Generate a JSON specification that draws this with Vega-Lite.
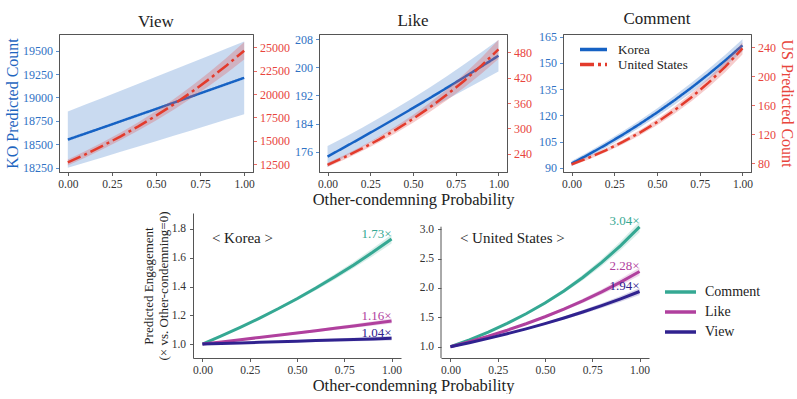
{
"$schema":"https://vega.github.io/schema/vega-lite/v6.json",
"padding":{"left":3,"top":9,"right":0,"bottom":0},
"config":{"font":"Liberation Serif","view":{"stroke":null},
 "axis":{"grid":false,"labelOverlap":false,"domainColor":"#555","domainWidth":1,"tickColor":"#333","tickSize":3.5,"tickWidth":0.8,"labelFont":"Liberation Serif","labelFontSize":11.5,"labelColor":"#333","labelPadding":3,"titleFont":"Liberation Serif","titleFontWeight":"normal","titleColor":"#222","titleFontSize":16.5},
 "title":{"font":"Liberation Serif","fontSize":17,"fontWeight":"normal","color":"#222","offset":3},
 "legend":{"labelFont":"Liberation Serif","labelColor":"#222"},
 "text":{"font":"Liberation Serif"}},
"datasets":{
"top":[
{"m":"View","c":"Korea","x":0,"y":18550,"lo":18250,"hi":18850},
{"m":"View","c":"Korea","x":0.1,"y":18615,"lo":18306,"hi":18924},
{"m":"View","c":"Korea","x":0.2,"y":18680,"lo":18362,"hi":18998},
{"m":"View","c":"Korea","x":0.3,"y":18746,"lo":18420,"hi":19072},
{"m":"View","c":"Korea","x":0.4,"y":18812,"lo":18477,"hi":19147},
{"m":"View","c":"Korea","x":0.5,"y":18877,"lo":18533,"hi":19221},
{"m":"View","c":"Korea","x":0.6,"y":18944,"lo":18591,"hi":19297},
{"m":"View","c":"Korea","x":0.7,"y":19010,"lo":18648,"hi":19372},
{"m":"View","c":"Korea","x":0.8,"y":19077,"lo":18707,"hi":19447},
{"m":"View","c":"Korea","x":0.9,"y":19144,"lo":18765,"hi":19523},
{"m":"View","c":"Korea","x":1,"y":19210,"lo":18822,"hi":19598},
{"m":"View","c":"United States","x":0,"y":12700,"lo":12382,"hi":13018},
{"m":"View","c":"United States","x":0.1,"y":13570,"lo":13229,"hi":13911},
{"m":"View","c":"United States","x":0.2,"y":14500,"lo":14130,"hi":14870},
{"m":"View","c":"United States","x":0.3,"y":15493,"lo":15088,"hi":15898},
{"m":"View","c":"United States","x":0.4,"y":16554,"lo":16106,"hi":17002},
{"m":"View","c":"United States","x":0.5,"y":17689,"lo":17189,"hi":18189},
{"m":"View","c":"United States","x":0.6,"y":18900,"lo":18339,"hi":19461},
{"m":"View","c":"United States","x":0.7,"y":20195,"lo":19561,"hi":20829},
{"m":"View","c":"United States","x":0.8,"y":21579,"lo":20860,"hi":22298},
{"m":"View","c":"United States","x":0.9,"y":23057,"lo":22238,"hi":23876},
{"m":"View","c":"United States","x":1,"y":24638,"lo":23702,"hi":25574},
{"m":"Like","c":"Korea","x":0,"y":174.6,"lo":171.6,"hi":177.6},
{"m":"Like","c":"Korea","x":0.1,"y":177.28,"lo":174.45,"hi":180.12},
{"m":"Like","c":"Korea","x":0.2,"y":180.0,"lo":177.26,"hi":182.74},
{"m":"Like","c":"Korea","x":0.3,"y":182.76,"lo":180.05,"hi":185.48},
{"m":"Like","c":"Korea","x":0.4,"y":185.56,"lo":182.8,"hi":188.32},
{"m":"Like","c":"Korea","x":0.5,"y":188.41,"lo":185.54,"hi":191.29},
{"m":"Like","c":"Korea","x":0.6,"y":191.3,"lo":188.24,"hi":194.36},
{"m":"Like","c":"Korea","x":0.7,"y":194.23,"lo":190.92,"hi":197.55},
{"m":"Like","c":"Korea","x":0.8,"y":197.21,"lo":193.57,"hi":200.85},
{"m":"Like","c":"Korea","x":0.9,"y":200.24,"lo":196.21,"hi":204.28},
{"m":"Like","c":"Korea","x":1,"y":203.31,"lo":198.81,"hi":207.81},
{"m":"Like","c":"United States","x":0,"y":213.5,"lo":208.59,"hi":218.41},
{"m":"Like","c":"United States","x":0.1,"y":231.84,"lo":226.45,"hi":237.23},
{"m":"Like","c":"United States","x":0.2,"y":251.76,"lo":245.73,"hi":257.79},
{"m":"Like","c":"United States","x":0.3,"y":273.39,"lo":266.51,"hi":280.27},
{"m":"Like","c":"United States","x":0.4,"y":296.87,"lo":288.9,"hi":304.84},
{"m":"Like","c":"United States","x":0.5,"y":322.38,"lo":313.03,"hi":331.73},
{"m":"Like","c":"United States","x":0.6,"y":350.08,"lo":339.0,"hi":361.16},
{"m":"Like","c":"United States","x":0.7,"y":380.16,"lo":366.95,"hi":393.37},
{"m":"Like","c":"United States","x":0.8,"y":412.82,"lo":396.98,"hi":428.66},
{"m":"Like","c":"United States","x":0.9,"y":448.29,"lo":429.26,"hi":467.32},
{"m":"Like","c":"United States","x":1,"y":486.78,"lo":463.9,"hi":509.66},
{"m":"Comment","c":"Korea","x":0,"y":92.5,"lo":91.02,"hi":93.98},
{"m":"Comment","c":"Korea","x":0.1,"y":97.71,"lo":96.09,"hi":99.33},
{"m":"Comment","c":"Korea","x":0.2,"y":103.22,"lo":101.44,"hi":105.0},
{"m":"Comment","c":"Korea","x":0.3,"y":109.03,"lo":107.09,"hi":110.97},
{"m":"Comment","c":"Korea","x":0.4,"y":115.17,"lo":113.05,"hi":117.29},
{"m":"Comment","c":"Korea","x":0.5,"y":121.66,"lo":119.35,"hi":123.97},
{"m":"Comment","c":"Korea","x":0.6,"y":128.51,"lo":125.99,"hi":131.03},
{"m":"Comment","c":"Korea","x":0.7,"y":135.75,"lo":133.01,"hi":138.49},
{"m":"Comment","c":"Korea","x":0.8,"y":143.4,"lo":140.42,"hi":146.38},
{"m":"Comment","c":"Korea","x":0.9,"y":151.47,"lo":148.23,"hi":154.71},
{"m":"Comment","c":"Korea","x":1,"y":160.03,"lo":156.51,"hi":163.55},
{"m":"Comment","c":"United States","x":0,"y":78.4,"lo":76.44,"hi":80.36},
{"m":"Comment","c":"United States","x":0.1,"y":87.62,"lo":85.34,"hi":89.9},
{"m":"Comment","c":"United States","x":0.2,"y":97.93,"lo":95.29,"hi":100.57},
{"m":"Comment","c":"United States","x":0.3,"y":109.44,"lo":106.38,"hi":112.5},
{"m":"Comment","c":"United States","x":0.4,"y":122.31,"lo":118.76,"hi":125.86},
{"m":"Comment","c":"United States","x":0.5,"y":136.7,"lo":132.6,"hi":140.8},
{"m":"Comment","c":"United States","x":0.6,"y":152.78,"lo":148.04,"hi":157.52},
{"m":"Comment","c":"United States","x":0.7,"y":170.74,"lo":165.28,"hi":176.2},
{"m":"Comment","c":"United States","x":0.8,"y":190.82,"lo":184.52,"hi":197.12},
{"m":"Comment","c":"United States","x":0.9,"y":213.27,"lo":206.02,"hi":220.52},
{"m":"Comment","c":"United States","x":1,"y":238.34,"lo":230.0,"hi":246.68}
],
"bot":[
{"c":"Korea","m":"Comment","x":0,"y":1,"lo":1,"hi":1},
{"c":"Korea","m":"Comment","x":0.1,"y":1.0563,"lo":1.0544,"hi":1.0582},
{"c":"Korea","m":"Comment","x":0.2,"y":1.1158,"lo":1.1118,"hi":1.1198},
{"c":"Korea","m":"Comment","x":0.3,"y":1.1787,"lo":1.1723,"hi":1.1851},
{"c":"Korea","m":"Comment","x":0.4,"y":1.2451,"lo":1.2361,"hi":1.2541},
{"c":"Korea","m":"Comment","x":0.5,"y":1.3152,"lo":1.3034,"hi":1.327},
{"c":"Korea","m":"Comment","x":0.6,"y":1.3893,"lo":1.3743,"hi":1.4043},
{"c":"Korea","m":"Comment","x":0.7,"y":1.4676,"lo":1.4491,"hi":1.4861},
{"c":"Korea","m":"Comment","x":0.8,"y":1.5502,"lo":1.5279,"hi":1.5725},
{"c":"Korea","m":"Comment","x":0.9,"y":1.6376,"lo":1.6111,"hi":1.6641},
{"c":"Korea","m":"Comment","x":1,"y":1.73,"lo":1.6989,"hi":1.7611},
{"c":"Korea","m":"Like","x":0,"y":1,"lo":1,"hi":1},
{"c":"Korea","m":"Like","x":0.1,"y":1.015,"lo":1.0135,"hi":1.0165},
{"c":"Korea","m":"Like","x":0.2,"y":1.0302,"lo":1.0271,"hi":1.0333},
{"c":"Korea","m":"Like","x":0.3,"y":1.0455,"lo":1.0408,"hi":1.0502},
{"c":"Korea","m":"Like","x":0.4,"y":1.0611,"lo":1.0547,"hi":1.0675},
{"c":"Korea","m":"Like","x":0.5,"y":1.077,"lo":1.0689,"hi":1.0851},
{"c":"Korea","m":"Like","x":0.6,"y":1.093,"lo":1.0832,"hi":1.1028},
{"c":"Korea","m":"Like","x":0.7,"y":1.1094,"lo":1.0978,"hi":1.121},
{"c":"Korea","m":"Like","x":0.8,"y":1.126,"lo":1.1125,"hi":1.1395},
{"c":"Korea","m":"Like","x":0.9,"y":1.1428,"lo":1.1274,"hi":1.1582},
{"c":"Korea","m":"Like","x":1,"y":1.16,"lo":1.1426,"hi":1.1774},
{"c":"Korea","m":"View","x":0,"y":1,"lo":1,"hi":1},
{"c":"Korea","m":"View","x":0.1,"y":1.0039,"lo":1.0024,"hi":1.0054},
{"c":"Korea","m":"View","x":0.2,"y":1.0079,"lo":1.0049,"hi":1.0109},
{"c":"Korea","m":"View","x":0.3,"y":1.0118,"lo":1.0072,"hi":1.0164},
{"c":"Korea","m":"View","x":0.4,"y":1.0158,"lo":1.0097,"hi":1.0219},
{"c":"Korea","m":"View","x":0.5,"y":1.0198,"lo":1.0122,"hi":1.0274},
{"c":"Korea","m":"View","x":0.6,"y":1.0238,"lo":1.0146,"hi":1.033},
{"c":"Korea","m":"View","x":0.7,"y":1.0278,"lo":1.017,"hi":1.0386},
{"c":"Korea","m":"View","x":0.8,"y":1.0319,"lo":1.0195,"hi":1.0443},
{"c":"Korea","m":"View","x":0.9,"y":1.0359,"lo":1.0219,"hi":1.0499},
{"c":"Korea","m":"View","x":1,"y":1.04,"lo":1.0244,"hi":1.0556},
{"c":"United States","m":"Comment","x":0,"y":1,"lo":1,"hi":1},
{"c":"United States","m":"Comment","x":0.1,"y":1.1176,"lo":1.1142,"hi":1.121},
{"c":"United States","m":"Comment","x":0.2,"y":1.249,"lo":1.2415,"hi":1.2565},
{"c":"United States","m":"Comment","x":0.3,"y":1.396,"lo":1.3834,"hi":1.4086},
{"c":"United States","m":"Comment","x":0.4,"y":1.5601,"lo":1.5414,"hi":1.5788},
{"c":"United States","m":"Comment","x":0.5,"y":1.7436,"lo":1.7174,"hi":1.7698},
{"c":"United States","m":"Comment","x":0.6,"y":1.9487,"lo":1.9136,"hi":1.9838},
{"c":"United States","m":"Comment","x":0.7,"y":2.1778,"lo":2.1321,"hi":2.2235},
{"c":"United States","m":"Comment","x":0.8,"y":2.434,"lo":2.3756,"hi":2.4924},
{"c":"United States","m":"Comment","x":0.9,"y":2.7202,"lo":2.6468,"hi":2.7936},
{"c":"United States","m":"Comment","x":1,"y":3.04,"lo":2.9488,"hi":3.1312},
{"c":"United States","m":"Like","x":0,"y":1,"lo":1,"hi":1},
{"c":"United States","m":"Like","x":0.1,"y":1.0859,"lo":1.0826,"hi":1.0892},
{"c":"United States","m":"Like","x":0.2,"y":1.1792,"lo":1.1721,"hi":1.1863},
{"c":"United States","m":"Like","x":0.3,"y":1.2805,"lo":1.269,"hi":1.292},
{"c":"United States","m":"Like","x":0.4,"y":1.3905,"lo":1.3738,"hi":1.4072},
{"c":"United States","m":"Like","x":0.5,"y":1.51,"lo":1.4873,"hi":1.5327},
{"c":"United States","m":"Like","x":0.6,"y":1.6397,"lo":1.6102,"hi":1.6692},
{"c":"United States","m":"Like","x":0.7,"y":1.7806,"lo":1.7432,"hi":1.818},
{"c":"United States","m":"Like","x":0.8,"y":1.9336,"lo":1.8872,"hi":1.98},
{"c":"United States","m":"Like","x":0.9,"y":2.0997,"lo":2.043,"hi":2.1564},
{"c":"United States","m":"Like","x":1,"y":2.28,"lo":2.2116,"hi":2.3484},
{"c":"United States","m":"View","x":0,"y":1,"lo":1,"hi":1},
{"c":"United States","m":"View","x":0.1,"y":1.0685,"lo":1.0653,"hi":1.0717},
{"c":"United States","m":"View","x":0.2,"y":1.1417,"lo":1.1348,"hi":1.1486},
{"c":"United States","m":"View","x":0.3,"y":1.2199,"lo":1.2089,"hi":1.2309},
{"c":"United States","m":"View","x":0.4,"y":1.3035,"lo":1.2879,"hi":1.3191},
{"c":"United States","m":"View","x":0.5,"y":1.3928,"lo":1.3719,"hi":1.4137},
{"c":"United States","m":"View","x":0.6,"y":1.4882,"lo":1.4614,"hi":1.515},
{"c":"United States","m":"View","x":0.7,"y":1.5902,"lo":1.5568,"hi":1.6236},
{"c":"United States","m":"View","x":0.8,"y":1.6991,"lo":1.6583,"hi":1.7399},
{"c":"United States","m":"View","x":0.9,"y":1.8155,"lo":1.7665,"hi":1.8645},
{"c":"United States","m":"View","x":1,"y":1.94,"lo":1.8818,"hi":1.9982}
],
"lab":[
{"c":"Korea","m":"Comment","x":1,"y":1.73,"t":"1.73×"},
{"c":"Korea","m":"Like","x":1,"y":1.16,"t":"1.16×"},
{"c":"Korea","m":"View","x":1,"y":1.04,"t":"1.04×"},
{"c":"United States","m":"Comment","x":1,"y":3.04,"t":"3.04×"},
{"c":"United States","m":"Like","x":1,"y":2.28,"t":"2.28×"},
{"c":"United States","m":"View","x":1,"y":1.94,"t":"1.94×"}
]
},
"vconcat":[
{"hconcat":[
 {"width":194,"height":138,"view":{"stroke":"#555"},"title":"View",
  "layer":[
   {"layer":[
    {"data":{"name":"top"},"transform":[{"filter":"datum.m==='View'&&datum.c==='Korea'"}],
     "mark":{"type":"area","color":"#5b8fd0","opacity":0.33},
     "encoding":{"x":{"field":"x","type":"quantitative","scale":{"domain":[-0.05,1.05],"nice":false,"zero":false},"axis":{"values":[0,0.25,0.5,0.75,1],"format":".2f","title":null}},
      "y":{"field":"lo","type":"quantitative","scale":{"domain":[18204,19678],"nice":false,"zero":false},"axis":{"orient":"left","values":[18250,18500,18750,19000,19250,19500],"format":"d","title":"KO Predicted Count","titleColor":"#1f66c0","labelColor":"#2f72c4","tickColor":"#2f72c4","labelFontSize":12,"titleFontSize":16,"titlePadding":2}},
      "y2":{"field":"hi"}}},
    {"data":{"name":"top"},"transform":[{"filter":"datum.m==='View'&&datum.c==='Korea'"}],
     "mark":{"type":"line","strokeWidth":2.5},
     "encoding":{"x":{"field":"x","type":"quantitative","scale":{"domain":[-0.05,1.05],"nice":false,"zero":false},"axis":{"values":[0,0.25,0.5,0.75,1],"format":".2f","title":null}},
      "y":{"field":"y","type":"quantitative","scale":{"domain":[18204,19678],"nice":false,"zero":false},"axis":{"orient":"left","values":[18250,18500,18750,19000,19250,19500],"format":"d","title":"KO Predicted Count","titleColor":"#1f66c0","labelColor":"#2f72c4","tickColor":"#2f72c4","labelFontSize":12,"titleFontSize":16,"titlePadding":2}},
      "color":{"field":"c","type":"nominal","scale":{"domain":["Korea","United States"],"range":["#1662c4","#e33b2c"]},"legend":null},
      "strokeDash":{"field":"c","type":"nominal","scale":{"domain":["Korea","United States"],"range":[[1,0],[14,4,3,4]]},"legend":null}}}
   ]},
   {"layer":[
    {"data":{"name":"top"},"transform":[{"filter":"datum.m==='View'&&datum.c==='United States'"}],
     "mark":{"type":"area","color":"#e05555","opacity":0.3},
     "encoding":{"x":{"field":"x","type":"quantitative"},
      "y":{"field":"lo","type":"quantitative","scale":{"domain":[11677,26421],"nice":false,"zero":false},"axis":{"orient":"right","values":[12500,15000,17500,20000,22500,25000],"format":"d","title":null,"labelColor":"#e8453c","tickColor":"#e8453c","labelFontSize":12}},
      "y2":{"field":"hi"}}},
    {"data":{"name":"top"},"transform":[{"filter":"datum.m==='View'&&datum.c==='United States'"}],
     "mark":{"type":"line","strokeWidth":2.5},
     "encoding":{"x":{"field":"x","type":"quantitative"},
      "y":{"field":"y","type":"quantitative","scale":{"domain":[11677,26421],"nice":false,"zero":false},"axis":{"orient":"right","values":[12500,15000,17500,20000,22500,25000],"format":"d","title":null,"labelColor":"#e8453c","tickColor":"#e8453c","labelFontSize":12}},
      "color":{"field":"c","type":"nominal","scale":{"domain":["Korea","United States"],"range":["#1662c4","#e33b2c"]},"legend":null},
      "strokeDash":{"field":"c","type":"nominal","scale":{"domain":["Korea","United States"],"range":[[1,0],[14,4,3,4]]},"legend":null}}}
   ]}
  ],
  "resolve":{"scale":{"y":"independent"}}},
 {"width":16,"height":10,"data":{"values":[{"a":0}]},"mark":{"type":"point","opacity":0},"encoding":{}},
 {"width":188,"height":138,"view":{"stroke":"#555"},"title":"Like",
  "layer":[
   {"layer":[
    {"data":{"name":"top"},"transform":[{"filter":"datum.m==='Like'&&datum.c==='Korea'"}],
     "mark":{"type":"area","color":"#5b8fd0","opacity":0.33},
     "encoding":{"x":{"field":"x","type":"quantitative","scale":{"domain":[-0.05,1.05],"nice":false,"zero":false},"axis":{"values":[0,0.25,0.5,0.75,1],"format":".2f","title":"Other-condemning Probability","titlePadding":1}},
      "y":{"field":"lo","type":"quantitative","scale":{"domain":[170.2,209.5],"nice":false,"zero":false},"axis":{"orient":"left","values":[176,184,192,200,208],"format":"d","title":null,"labelColor":"#2f72c4","tickColor":"#2f72c4","labelFontSize":12}},
      "y2":{"field":"hi"}}},
    {"data":{"name":"top"},"transform":[{"filter":"datum.m==='Like'&&datum.c==='Korea'"}],
     "mark":{"type":"line","strokeWidth":2.5},
     "encoding":{"x":{"field":"x","type":"quantitative","scale":{"domain":[-0.05,1.05],"nice":false,"zero":false},"axis":{"values":[0,0.25,0.5,0.75,1],"format":".2f","title":"Other-condemning Probability","titlePadding":1}},
      "y":{"field":"y","type":"quantitative","scale":{"domain":[170.2,209.5],"nice":false,"zero":false},"axis":{"orient":"left","values":[176,184,192,200,208],"format":"d","title":null,"labelColor":"#2f72c4","tickColor":"#2f72c4","labelFontSize":12}},
      "color":{"field":"c","type":"nominal","scale":{"domain":["Korea","United States"],"range":["#1662c4","#e33b2c"]},"legend":null},
      "strokeDash":{"field":"c","type":"nominal","scale":{"domain":["Korea","United States"],"range":[[1,0],[14,4,3,4]]},"legend":null}}}
   ]},
   {"layer":[
    {"data":{"name":"top"},"transform":[{"filter":"datum.m==='Like'&&datum.c==='United States'"}],
     "mark":{"type":"area","color":"#e05555","opacity":0.3},
     "encoding":{"x":{"field":"x","type":"quantitative"},
      "y":{"field":"lo","type":"quantitative","scale":{"domain":[196.7,523.3],"nice":false,"zero":false},"axis":{"orient":"right","values":[240,300,360,420,480],"format":"d","title":null,"labelColor":"#e8453c","tickColor":"#e8453c","labelFontSize":12}},
      "y2":{"field":"hi"}}},
    {"data":{"name":"top"},"transform":[{"filter":"datum.m==='Like'&&datum.c==='United States'"}],
     "mark":{"type":"line","strokeWidth":2.5},
     "encoding":{"x":{"field":"x","type":"quantitative"},
      "y":{"field":"y","type":"quantitative","scale":{"domain":[196.7,523.3],"nice":false,"zero":false},"axis":{"orient":"right","values":[240,300,360,420,480],"format":"d","title":null,"labelColor":"#e8453c","tickColor":"#e8453c","labelFontSize":12}},
      "color":{"field":"c","type":"nominal","scale":{"domain":["Korea","United States"],"range":["#1662c4","#e33b2c"]},"legend":null},
      "strokeDash":{"field":"c","type":"nominal","scale":{"domain":["Korea","United States"],"range":[[1,0],[14,4,3,4]]},"legend":null}}}
   ]}
  ],
  "resolve":{"scale":{"y":"independent"}}},
 {"width":6,"height":10,"data":{"values":[{"a":0}]},"mark":{"type":"point","opacity":0},"encoding":{}},
 {"width":188,"height":138,"view":{"stroke":"#555"},"title":"Comment",
  "layer":[
   {"layer":[
    {"data":{"name":"top"},"transform":[{"filter":"datum.m==='Comment'&&datum.c==='Korea'"}],
     "mark":{"type":"area","color":"#5b8fd0","opacity":0.33},
     "encoding":{"x":{"field":"x","type":"quantitative","scale":{"domain":[-0.05,1.05],"nice":false,"zero":false},"axis":{"values":[0,0.25,0.5,0.75,1],"format":".2f","title":null}},
      "y":{"field":"lo","type":"quantitative","scale":{"domain":[87.7,166.5],"nice":false,"zero":false},"axis":{"orient":"left","values":[90,105,120,135,150,165],"format":"d","title":null,"labelColor":"#2f72c4","tickColor":"#2f72c4","labelFontSize":12}},
      "y2":{"field":"hi"}}},
    {"data":{"name":"top"},"transform":[{"filter":"datum.m==='Comment'&&datum.c==='Korea'"}],
     "mark":{"type":"line","strokeWidth":2.5},
     "encoding":{"x":{"field":"x","type":"quantitative","scale":{"domain":[-0.05,1.05],"nice":false,"zero":false},"axis":{"values":[0,0.25,0.5,0.75,1],"format":".2f","title":null}},
      "y":{"field":"y","type":"quantitative","scale":{"domain":[87.7,166.5],"nice":false,"zero":false},"axis":{"orient":"left","values":[90,105,120,135,150,165],"format":"d","title":null,"labelColor":"#2f72c4","tickColor":"#2f72c4","labelFontSize":12}},
      "color":{"field":"c","type":"nominal","scale":{"domain":["Korea","United States"],"range":["#1662c4","#e33b2c"]},"legend":{"title":null,"orient":"none","legendX":15,"legendY":8,"padding":0,"symbolType":"stroke","symbolSize":729,"symbolStrokeWidth":3.5,"labelFontSize":13,"clipHeight":15,"rowPadding":0,"labelOffset":9}},
      "strokeDash":{"field":"c","type":"nominal","scale":{"domain":["Korea","United States"],"range":[[1,0],[14,4,3,4]]},"legend":{"title":null,"orient":"none","legendX":15,"legendY":8,"padding":0,"symbolType":"stroke","symbolSize":729,"symbolStrokeWidth":3.5,"labelFontSize":13,"clipHeight":15,"rowPadding":0,"labelOffset":9}}}}
   ]},
   {"layer":[
    {"data":{"name":"top"},"transform":[{"filter":"datum.m==='Comment'&&datum.c==='United States'"}],
     "mark":{"type":"area","color":"#e05555","opacity":0.3},
     "encoding":{"x":{"field":"x","type":"quantitative"},
      "y":{"field":"lo","type":"quantitative","scale":{"domain":[68,258.3],"nice":false,"zero":false},"axis":{"orient":"right","values":[80,120,160,200,240],"format":"d","title":"US Predicted Count","titleColor":"#e8453c","titleFontSize":16,"titlePadding":3,"labelColor":"#e8453c","tickColor":"#e8453c","labelFontSize":12}},
      "y2":{"field":"hi"}}},
    {"data":{"name":"top"},"transform":[{"filter":"datum.m==='Comment'&&datum.c==='United States'"}],
     "mark":{"type":"line","strokeWidth":2.5},
     "encoding":{"x":{"field":"x","type":"quantitative"},
      "y":{"field":"y","type":"quantitative","scale":{"domain":[68,258.3],"nice":false,"zero":false},"axis":{"orient":"right","values":[80,120,160,200,240],"format":"d","title":"US Predicted Count","titleColor":"#e8453c","titleFontSize":16,"titlePadding":3,"labelColor":"#e8453c","tickColor":"#e8453c","labelFontSize":12}},
      "color":{"field":"c","type":"nominal","scale":{"domain":["Korea","United States"],"range":["#1662c4","#e33b2c"]},"legend":{"title":null,"orient":"none","legendX":15,"legendY":8,"padding":0,"symbolType":"stroke","symbolSize":729,"symbolStrokeWidth":3.5,"labelFontSize":13,"clipHeight":15,"rowPadding":0,"labelOffset":9}},
      "strokeDash":{"field":"c","type":"nominal","scale":{"domain":["Korea","United States"],"range":[[1,0],[14,4,3,4]]},"legend":{"title":null,"orient":"none","legendX":15,"legendY":8,"padding":0,"symbolType":"stroke","symbolSize":729,"symbolStrokeWidth":3.5,"labelFontSize":13,"clipHeight":15,"rowPadding":0,"labelOffset":9}}}}
   ]}
  ],
  "resolve":{"scale":{"y":"independent"}}}
 ],
 "spacing":25,
 "bounds":"flush",
 "resolve":{"legend":{"color":"independent","strokeDash":"independent"}}},
{"hconcat":[
 {"width":94,"height":10,"data":{"values":[{"a":0}]},"mark":{"type":"point","opacity":0},"encoding":{}},
 {"width":208,"height":145,
  "layer":[
   {"data":{"name":"bot"},"transform":[{"filter":"datum.c==='Korea'"}],
    "mark":{"type":"area","opacity":0.2},
    "encoding":{"x":{"field":"x","type":"quantitative","scale":{"domain":[-0.05,1.05],"nice":false,"zero":false},"axis":{"values":[0,0.25,0.5,0.75,1],"format":".2f","title":"Other-condemning Probability","titleX":220,"titlePadding":1}},
     "y":{"field":"lo","type":"quantitative","scale":{"domain":[0.903,1.911],"nice":false,"zero":false},"axis":{"values":[1,1.2,1.4,1.6,1.8],"tickCount":5,"format":".1f","labelOverlap":false,"labelPadding":4,"title":["Predicted Engagement","(× vs. Other-condemning=0)"],"titleFontSize":13,"titleLineHeight":15,"titlePadding":1}},
     "y2":{"field":"hi"},
     "fill":{"field":"m","type":"nominal","scale":{"domain":["Comment","Like","View"],"range":["#35a893","#b0409e","#30228f"]},"legend":null}}},
   {"data":{"name":"bot"},"transform":[{"filter":"datum.c==='Korea'"}],
    "mark":{"type":"line","strokeWidth":3},
    "encoding":{"x":{"field":"x","type":"quantitative","scale":{"domain":[-0.05,1.05],"nice":false,"zero":false},"axis":{"values":[0,0.25,0.5,0.75,1],"format":".2f","title":"Other-condemning Probability","titleX":220,"titlePadding":1}},
     "y":{"field":"y","type":"quantitative","scale":{"domain":[0.903,1.911],"nice":false,"zero":false},"axis":{"values":[1,1.2,1.4,1.6,1.8],"tickCount":5,"format":".1f","labelOverlap":false,"labelPadding":4,"title":["Predicted Engagement","(× vs. Other-condemning=0)"],"titleFontSize":13,"titleLineHeight":15,"titlePadding":1}},
     "color":{"field":"m","type":"nominal","scale":{"domain":["Comment","Like","View"],"range":["#35a893","#b0409e","#30228f"]},"legend":null}}},
   {"data":{"name":"lab"},"transform":[{"filter":"datum.c==='Korea'"}],
    "mark":{"type":"text","align":"right","baseline":"middle","dy":-5.5,"fontSize":13},
    "encoding":{"x":{"field":"x","type":"quantitative"},"y":{"field":"y","type":"quantitative","axis":{"values":[1,1.2,1.4,1.6,1.8],"tickCount":5,"format":".1f","labelOverlap":false,"labelPadding":4,"title":["Predicted Engagement","(× vs. Other-condemning=0)"],"titleFontSize":13,"titleLineHeight":15,"titlePadding":1}},"text":{"field":"t"},
     "fill":{"field":"m","type":"nominal","scale":{"domain":["Comment","Like","View"],"range":["#35a893","#b0409e","#30228f"]},"legend":null}}},
   {"data":{"values":[{"a":0}]},"mark":{"type":"text","text":"< Korea >","align":"left","baseline":"middle","fontSize":15,"color":"#222"},
    "encoding":{"x":{"datum":0.05},"y":{"datum":1.74,"axis":{"values":[1,1.2,1.4,1.6,1.8],"tickCount":5,"format":".1f","labelOverlap":false,"labelPadding":4,"title":["Predicted Engagement","(× vs. Other-condemning=0)"],"titleFontSize":13,"titleLineHeight":15,"titlePadding":1}}}}
  ]},
 {"width":208,"height":145,
  "layer":[
   {"data":{"name":"bot"},"transform":[{"filter":"datum.c==='United States'"}],
    "mark":{"type":"area","opacity":0.2},
    "encoding":{"x":{"field":"x","type":"quantitative","scale":{"domain":[-0.05,1.05],"nice":false,"zero":false},"axis":{"values":[0,0.25,0.5,0.75,1],"format":".2f","title":null}},
     "y":{"field":"lo","type":"quantitative","scale":{"domain":[0.8077,3.276],"nice":false,"zero":false},"axis":{"values":[1,1.5,2,2.5,3],"tickCount":5,"format":".1f","labelOverlap":false,"labelPadding":4,"title":null,"domain":false}},
     "y2":{"field":"hi"},
     "fill":{"field":"m","type":"nominal","scale":{"domain":["Comment","Like","View"],"range":["#35a893","#b0409e","#30228f"]},"legend":null}}},
   {"data":{"name":"bot"},"transform":[{"filter":"datum.c==='United States'"}],
    "mark":{"type":"line","strokeWidth":3},
    "encoding":{"x":{"field":"x","type":"quantitative","scale":{"domain":[-0.05,1.05],"nice":false,"zero":false},"axis":{"values":[0,0.25,0.5,0.75,1],"format":".2f","title":null}},
     "y":{"field":"y","type":"quantitative","scale":{"domain":[0.8077,3.276],"nice":false,"zero":false},"axis":{"values":[1,1.5,2,2.5,3],"tickCount":5,"format":".1f","labelOverlap":false,"labelPadding":4,"title":null,"domain":false}},
     "color":{"field":"m","type":"nominal","scale":{"domain":["Comment","Like","View"],"range":["#35a893","#b0409e","#30228f"]},"legend":{"title":null,"orient":"none","legendX":222,"legendY":70,"padding":0,"symbolType":"stroke","symbolSize":961,"symbolStrokeWidth":3.5,"labelFontSize":14,"clipHeight":18,"rowPadding":2,"labelOffset":7}}}},
   {"data":{"name":"lab"},"transform":[{"filter":"datum.c==='United States'"}],
    "mark":{"type":"text","align":"right","baseline":"middle","dy":-5.5,"fontSize":13},
    "encoding":{"x":{"field":"x","type":"quantitative"},"y":{"field":"y","type":"quantitative","axis":{"values":[1,1.5,2,2.5,3],"tickCount":5,"format":".1f","labelOverlap":false,"labelPadding":4,"title":null,"domain":false}},"text":{"field":"t"},
     "fill":{"field":"m","type":"nominal","scale":{"domain":["Comment","Like","View"],"range":["#35a893","#b0409e","#30228f"]},"legend":null}}},
   {"data":{"values":[{"a":0}]},"mark":{"type":"text","text":"< United States >","align":"left","baseline":"middle","fontSize":15,"color":"#222"},
    "encoding":{"x":{"datum":0.05},"y":{"datum":2.855,"axis":{"values":[1,1.5,2,2.5,3],"tickCount":5,"format":".1f","labelOverlap":false,"labelPadding":4,"title":null,"domain":false}}}},
   {"data":{"values":[{"a":0}]},"mark":{"type":"rule","color":"#555","strokeWidth":1},
    "encoding":{"x":{"datum":-0.05},"y":{"datum":0.8077,"axis":{"values":[1,1.5,2,2.5,3],"tickCount":5,"format":".1f","labelOverlap":false,"labelPadding":4,"title":null,"domain":false}},"y2":{"datum":3.043}}}
  ]}
 ],
 "spacing":40,
 "bounds":"flush",
 "resolve":{"legend":{"color":"independent"}}}
],
"spacing":2,
"resolve":{"scale":{"color":"independent","strokeDash":"independent"},"legend":{"color":"independent","strokeDash":"independent"}}
}
